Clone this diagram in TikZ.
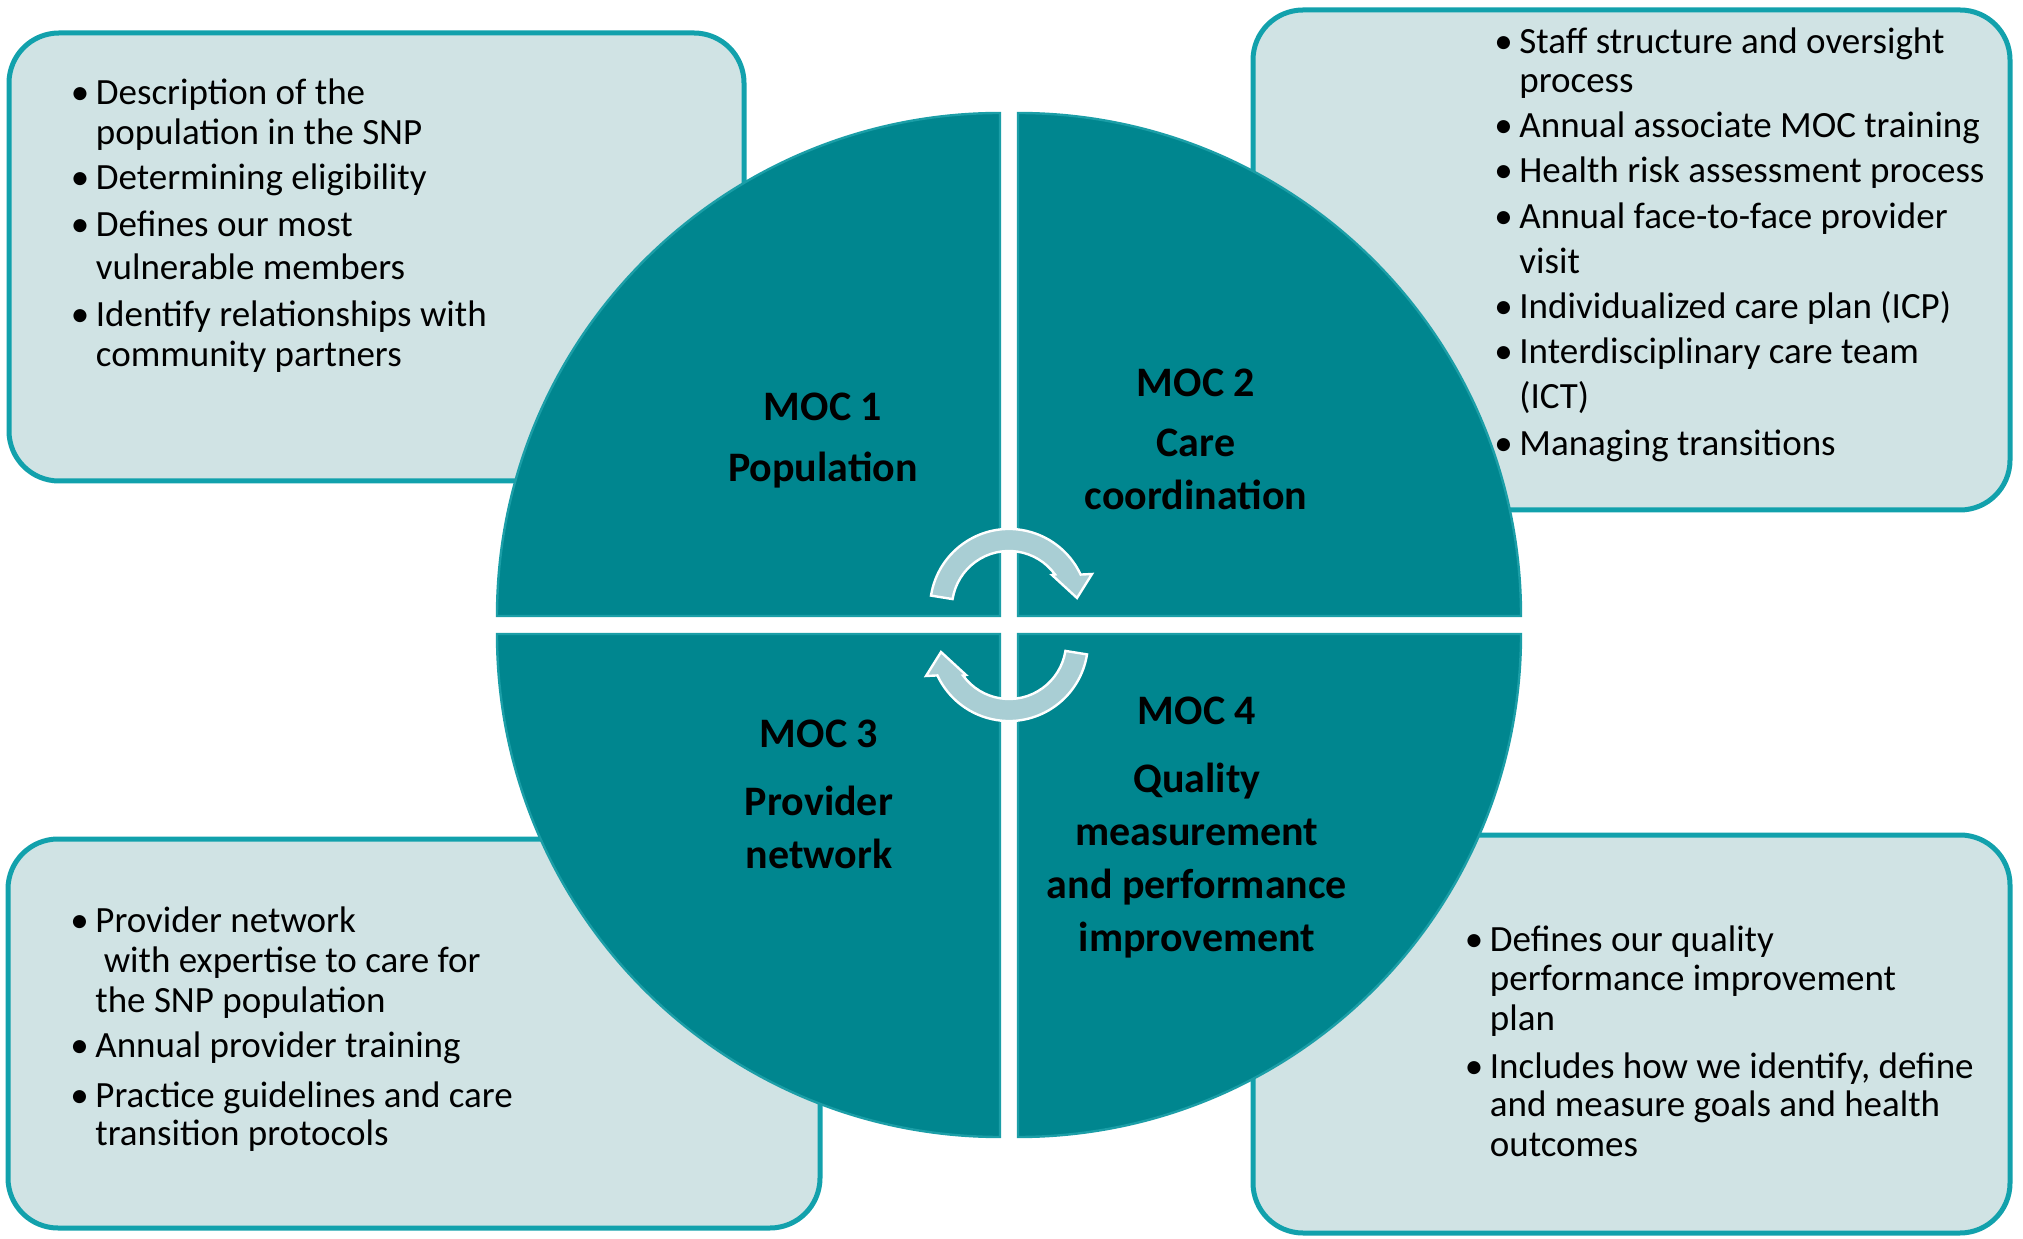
\documentclass[tikz,border=0pt]{standalone}
\usepackage{fontspec}
\setmainfont{Carlito}
\usepackage{array}
\definecolor{tealq}{HTML}{00868F}
\definecolor{tealedge}{HTML}{1B9EA7}
\definecolor{boxfill}{HTML}{D0E3E4}
\definecolor{boxedge}{HTML}{12A1AC}
\definecolor{arrowfill}{HTML}{A9CED4}
\tikzset{
  infobox/.style={draw=boxedge,fill=boxfill,line width=2.5pt,rounded corners=25pt},
  quarter/.style={fill=tealq,draw=tealedge,line width=1.2pt},
  moclabel/.style={align=center,inner sep=0pt,font=\fontsize{21}{26.5}\selectfont\bfseries},
  bullets/.style={anchor=base west,inner sep=0pt,font=\fontsize{18.5}{20}\selectfont},
  turn/.style={fill=arrowfill,draw=white,line width=1.2pt,line join=miter}
}
\newcommand{\bul}{\textbullet}
\begin{document}
\begin{tikzpicture}[x=0.5pt,y=0.5pt]
  \useasboundingbox (0,0) rectangle (2023,1238);
  % boxes behind the circle
  \draw[infobox] (9,757) rectangle (744,1205);
  \draw[infobox] (1253,728) rectangle (2010,1228);
  \draw[infobox] (8,10) rectangle (820,399);
  \draw[infobox] (1253,5) rectangle (2010,403);
  % four quarters, centre (1009,613)
  \foreach \sx/\sy/\a in {-1/1/90, 1/1/0, -1/-1/180, 1/-1/270}
    \draw[quarter] (1009+\sx*9,613+\sy*9) -- ++(\a:503)
      arc[start angle=\a, end angle=\a+90, radius=251.5pt] -- cycle;
  % turning arrows
  \foreach \r in {0,180}
    \draw[turn,rotate around={\r:(1009,613)}] (931,642.4)
      arc[start angle=171, end angle=25, radius=39.5pt]
      -- (1092,664) -- (1077,640) -- (1052,663) -- (1055,663.5)
      arc[start angle=36, end angle=171, radius=28.5pt] -- cycle;
  % quarter labels
  \node[moclabel] (moc1) at (823,797.5) {MOC 1\\[4pt]Population};
  \node[moclabel] (moc2) at (1196,798.5) {MOC 2\\[3.5pt]Care\\coordination};
  \node[moclabel] (moc3) at (819,443.5) {MOC 3\\[7.5pt]Provider\\network};
  \node[moclabel] (moc4) at (1197,410) {MOC 4\\[7.5pt]Quality\\measurement\\and performance\\improvement};
  % bullet lists
  \node[bullets] (popnotes) at (70.5,1133) {\begin{tabular}[t]{@{}wl{12.5pt}@{}l@{}}
    \bul & Description of the\\
         & population in the SNP\\[2.5pt]
    \bul & Determining eligibility\\[3.5pt]
    \bul & Defines our most\\[1.5pt]
         & vulnerable members\\[3.5pt]
    \bul & Identify relationships with\\
         & community partners
  \end{tabular}};
  \node[bullets] (carenotes) at (1494,1184) {\begin{tabular}[t]{@{}wl{12.5pt}@{}l@{}}
    \bul & Staff structure and oversight\\[-0.5pt]
         & process\\[2.5pt]
    \bul & Annual associate MOC training\\[2.5pt]
    \bul & Health risk assessment process\\[3pt]
    \bul & Annual face-to-face provider\\[2.5pt]
         & visit\\[2.5pt]
    \bul & Individualized care plan (ICP)\\[2.5pt]
    \bul & Interdisciplinary care team\\[2.5pt]
         & (ICT)\\[3.5pt]
    \bul & Managing transitions
  \end{tabular}};
  \node[bullets] (provnotes) at (70,305.5) {\begin{tabular}[t]{@{}wl{12.5pt}@{}l@{}}
    \bul & Provider network\\
         & \ with expertise to care for\\
         & the SNP population\\[2.5pt]
    \bul & Annual provider training\\[5pt]
    \bul & Practice guidelines and care\\[-1pt]
         & transition protocols
  \end{tabular}};
  \node[bullets] (qualnotes) at (1464.5,287) {\begin{tabular}[t]{@{}wl{12.5pt}@{}l@{}}
    \bul & Defines our quality\\[-0.5pt]
         & performance improvement\\
         & plan\\[4pt]
    \bul & Includes how we identify, define\\[-1pt]
         & and measure goals and health\\
         & outcomes
  \end{tabular}};
\end{tikzpicture}
\end{document}
